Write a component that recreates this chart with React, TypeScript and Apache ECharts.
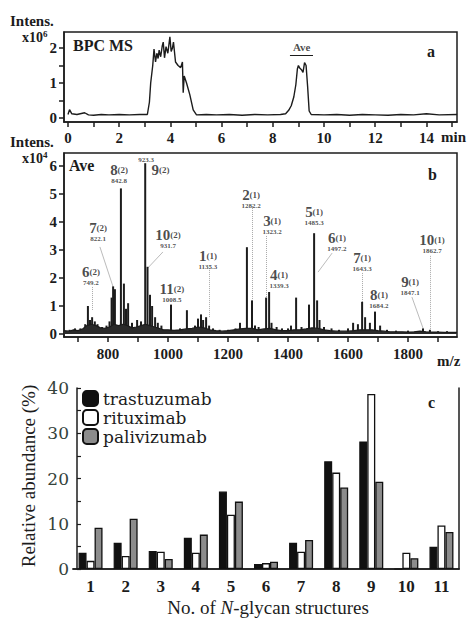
import React, { useEffect, useRef } from "react";
import * as echarts from "echarts";

// ---------- Panel a: BPC chromatogram (min, intensity x10^6) ----------
const bpcPoints: [number, number][] = [
  [0, 0.1], [0.06, 0.24], [0.15, 0.12], [0.35, 0.1], [0.65, 0.15], [0.8, 0.09], [1.0, 0.08],
  [1.3, 0.1], [1.6, 0.09], [2.0, 0.1], [2.4, 0.09], [2.8, 0.1], [3.1, 0.1],
  [3.18, 0.45], [3.23, 1.0], [3.31, 1.5], [3.36, 1.97], [3.42, 1.6], [3.47, 1.85], [3.52, 1.7],
  [3.56, 1.94], [3.62, 1.75], [3.68, 2.05], [3.72, 2.17], [3.77, 1.72], [3.83, 2.04], [3.9, 1.85],
  [3.98, 2.32], [4.03, 1.9], [4.08, 2.0], [4.12, 2.17], [4.2, 1.6], [4.3, 1.5], [4.4, 1.44],
  [4.47, 1.6], [4.5, 0.72], [4.54, 1.2], [4.63, 1.0], [4.76, 0.66], [4.89, 0.23], [5.02, 0.09],
  [5.4, 0.1], [5.8, 0.09], [6.3, 0.1], [6.8, 0.08], [7.3, 0.1], [7.8, 0.09], [8.3, 0.1],
  [8.5, 0.12], [8.62, 0.22], [8.72, 0.35], [8.82, 0.6], [8.9, 0.95], [8.96, 1.4], [9.0, 1.5],
  [9.06, 1.42], [9.12, 1.38], [9.18, 1.3], [9.24, 1.58], [9.3, 1.5], [9.36, 0.9], [9.42, 0.2],
  [9.5, 0.1], [10.0, 0.09], [10.5, 0.1], [11.0, 0.08], [11.5, 0.1], [12.0, 0.09], [12.5, 0.08],
  [13.0, 0.1], [13.5, 0.09], [14.0, 0.12], [14.5, 0.09], [15.2, 0.1],
];
const bpcTicks = [0, 1, 2, 3, 4, 5, 6, 7, 8, 9, 10, 11, 12, 13, 14, 15];
const bpcLabels = [0, 2, 4, 6, 8, 10, 12, 14];
const bpcYTicks = [0, 0.5, 1, 1.5, 2];
const bpcYLabels = [0, 1, 2];

// ---------- Panel b: averaged mass spectrum (m/z, intensity x10^4) ----------
const specPeaks: [number, number][] = [
  [672, 0.15], [690, 0.2], [708, 0.2], [724, 0.35], [733, 1.0], [740, 0.5], [747, 0.6], [756, 0.45],
  [765, 0.35], [780, 0.25], [795, 0.3], [805, 0.45], [812, 1.3], [817, 1.7], [823, 1.6], [843, 5.2],
  [853, 1.8], [860, 0.9], [867, 1.1], [880, 0.4], [897, 0.5], [910, 0.45], [924, 6.1], [931.7, 2.4],
  [940, 1.4], [947, 1.0], [957, 0.6], [966, 0.4], [978, 0.3], [1010, 1.05], [1040, 0.2], [1063, 0.85],
  [1090, 0.3], [1100, 0.55], [1110, 0.7], [1117, 0.5], [1127, 0.6], [1137, 0.3], [1150, 0.2],
  [1172, 0.15], [1200, 0.15], [1225, 0.2], [1240, 0.4], [1263, 3.1], [1280, 1.2], [1290, 0.3],
  [1302, 0.25], [1327, 1.3], [1337, 1.5], [1345, 0.4], [1362, 0.25], [1380, 0.2], [1400, 0.2],
  [1410, 0.3], [1427, 1.3], [1445, 0.25], [1470, 1.05], [1487, 3.6], [1497, 1.2], [1505, 0.5],
  [1520, 0.25], [1545, 0.2], [1570, 0.15], [1600, 0.2], [1617, 0.4], [1633, 0.35], [1647, 1.15],
  [1657, 0.6], [1673, 0.4], [1690, 0.8], [1707, 0.3], [1730, 0.15], [1760, 0.12], [1800, 0.12],
  [1850, 0.2], [1873, 0.15], [1900, 0.1], [1930, 0.1],
];
const specNoise: [number, number][] = [
  [653, 0.12], [670, 0.1], [685, 0.15], [700, 0.12], [715, 0.18], [730, 0.3], [745, 0.35], [760, 0.3],
  [775, 0.22], [790, 0.2], [805, 0.25], [820, 0.35], [835, 0.3], [850, 0.35], [865, 0.3], [880, 0.22],
  [895, 0.25], [910, 0.3], [925, 0.35], [940, 0.3], [955, 0.25], [970, 0.2], [985, 0.15], [1000, 0.15],
  [1020, 0.13], [1040, 0.15], [1060, 0.18], [1080, 0.2], [1100, 0.25], [1120, 0.22], [1140, 0.15],
  [1160, 0.12], [1180, 0.1], [1200, 0.12], [1220, 0.15], [1240, 0.18], [1260, 0.2], [1280, 0.2],
  [1300, 0.15], [1320, 0.18], [1340, 0.2], [1360, 0.15], [1380, 0.12], [1400, 0.12], [1420, 0.15],
  [1440, 0.15], [1460, 0.18], [1480, 0.22], [1500, 0.2], [1520, 0.15], [1540, 0.12], [1560, 0.1],
  [1580, 0.1], [1600, 0.1], [1620, 0.12], [1640, 0.15], [1660, 0.15], [1680, 0.15], [1700, 0.12],
  [1720, 0.1], [1740, 0.08], [1760, 0.08], [1780, 0.08], [1800, 0.07], [1820, 0.08], [1840, 0.1],
  [1860, 0.08], [1880, 0.07], [1900, 0.07], [1920, 0.06], [1940, 0.06], [1963, 0.06],
];
const specTicks = [700, 800, 900, 1000, 1100, 1200, 1300, 1400, 1500, 1600, 1700, 1800, 1900];
const specLabels = [800, 1000, 1200, 1400, 1600, 1800];
const specYTicks = [0, 1, 2, 3, 4, 5, 6];

// Peak annotations: glycan number, charge state, m/z text
const annNames = ["6", "7", "8", "10", "11", "1", "2", "3", "4", "5", "6", "7", "8", "9", "10"];
const annCharges = ["(2)", "(2)", "(2)", "(2)", "(2)", "(1)", "(1)", "(1)", "(1)", "(1)", "(1)", "(1)", "(1)", "(1)", "(1)"];
const annMasses = ["749.2", "822.1", "842.8", "931.7", "1008.5", "1135.3", "1282.2", "1323.2", "1339.3", "1485.3", "1497.2", "1643.3", "1684.2", "1847.1", "1862.7"];
const annAnchors: [number, number][] = [
  [743, 2.07], [767, 3.61], [837, 5.68], [1000, 3.36], [1013, 1.46], [1133, 2.64], [1277, 4.82],
  [1347, 3.89], [1370, 1.93], [1487, 4.18], [1563, 3.25], [1647, 2.54], [1703, 1.25], [1807, 1.71],
  [1880, 3.21],
];
const leaders: { from: [number, number]; to: [number, number]; dotted: boolean }[] = [
  { from: [747, 1.68], to: [747, 0.86], dotted: true },
  { from: [773, 3.11], to: [817, 1.68], dotted: false },
  { from: [983, 2.93], to: [933, 2.36], dotted: false },
  { from: [1137, 2.36], to: [1137, 0.57], dotted: true },
  { from: [1280, 4.57], to: [1280, 1.2], dotted: true },
  { from: [1327, 3.5], to: [1327, 1.3], dotted: true },
  { from: [1547, 2.89], to: [1500, 2.21], dotted: false },
  { from: [1647, 2.18], to: [1647, 1.15], dotted: true },
  { from: [1813, 1.32], to: [1850, 0.21], dotted: false },
  { from: [1873, 2.79], to: [1873, 0.14], dotted: true },
];

// ---------- Panel c: relative abundance (%) ----------
const glycanNos = ["1", "2", "3", "4", "5", "6", "7", "8", "9", "10", "11"];
const trastuzumab = [3.6, 5.8, 4.0, 6.9, 17.1, 1.1, 5.8, 23.8, 28.2, 0, 4.9];
const rituximab = [1.8, 2.9, 3.8, 3.6, 12.0, 1.3, 3.8, 21.3, 38.7, 3.6, 9.6];
const palivizumab = [9.1, 11.1, 2.2, 7.6, 14.9, 1.6, 6.4, 18.0, 19.3, 2.4, 8.2];
const abundTicks = [0, 5, 10, 15, 20, 25, 30, 35, 40];
const abundLabels = [0, 10, 20, 30, 40];

const SERIF = "Liberation Serif";
const WIDE_SERIF = "DejaVu Serif";
const INK = "#1c1c1c";
const plain = (v: number) => String(v);

export default function App() {
  const ref = useRef<HTMLDivElement>(null);
  useEffect(() => {
    if (!ref.current) return;
    const chart = echarts.init(ref.current, null, { renderer: "svg" });
    const axLine = { show: true, onZero: false, lineStyle: { color: INK, width: 1.5 } };
    const tickLbl = { fontFamily: SERIF, fontWeight: "bold" as const, fontSize: 15, color: INK, formatter: plain };

    const option: any = {
      animation: false,
      backgroundColor: "#fff",
      textStyle: { fontFamily: SERIF },
      grid: [
        { left: 64, top: 32, width: 393, height: 90, show: true, borderColor: INK, borderWidth: 1.5 },
        { left: 64, top: 153, width: 393, height: 184, show: true, borderColor: INK, borderWidth: 1.5 },
        { left: 73, top: 388, width: 386, height: 181 },
      ],
      xAxis: [
        {
          type: "value", gridIndex: 0, min: -0.156, max: 15.195,
          axisLine: axLine,
          axisTick: { show: true, length: 5, customValues: bpcTicks, lineStyle: { color: INK, width: 1.5 } },
          axisLabel: { ...tickLbl, margin: 8, customValues: bpcLabels },
          splitLine: { show: false },
        },
        {
          type: "value", gridIndex: 1, min: 653.3, max: 1963.3,
          axisLine: axLine,
          axisTick: { show: true, length: 5, customValues: specTicks, lineStyle: { color: INK, width: 1.5 } },
          axisLabel: { ...tickLbl, margin: 9, customValues: specLabels },
          splitLine: { show: false },
        },
        {
          type: "category", gridIndex: 2, data: glycanNos,
          axisLine: { show: true, lineStyle: { color: INK, width: 1.5 } },
          axisTick: { show: false },
          axisLabel: { fontFamily: SERIF, fontWeight: "bold", fontSize: 17, color: INK, margin: 9 },
        },
        {
          type: "category", gridIndex: 2, data: glycanNos, position: "top",
          axisLine: { show: true, lineStyle: { color: INK, width: 1.5 } },
          axisTick: { show: false }, axisLabel: { show: false },
        },
      ],
      yAxis: [
        {
          type: "value", gridIndex: 0, min: -0.114, max: 2.457,
          axisLine: axLine,
          axisTick: { show: true, length: 5, customValues: bpcYTicks, lineStyle: { color: INK, width: 1.5 } },
          axisLabel: { ...tickLbl, margin: 7, customValues: bpcYLabels },
          splitLine: { show: false },
        },
        {
          type: "value", gridIndex: 1, min: -0.107, max: 6.464,
          axisLine: axLine,
          axisTick: { show: true, length: 5, customValues: specYTicks, lineStyle: { color: INK, width: 1.5 } },
          axisLabel: { ...tickLbl, margin: 7, customValues: specYTicks },
          splitLine: { show: false },
        },
        {
          type: "value", gridIndex: 2, min: 0, max: 40, offset: -4,
          axisLine: axLine,
          axisTick: { show: true, inside: true, length: 4, customValues: abundTicks, lineStyle: { color: INK, width: 1.2 } },
          axisLabel: { fontFamily: WIDE_SERIF, fontSize: 17, color: "#34423a", margin: 8, customValues: abundLabels, formatter: plain },
          splitLine: { show: false },
        },
        {
          type: "value", gridIndex: 2, min: 0, max: 40, position: "right",
          axisLine: axLine, axisTick: { show: false }, axisLabel: { show: false }, splitLine: { show: false },
        },
      ],
      legend: {
        data: ["trastuzumab", "rituximab", "palivizumab"],
        orient: "vertical", left: 82, top: 390, padding: 0,
        itemWidth: 15, itemHeight: 15, itemGap: 2,
        selectedMode: false,
        textStyle: { fontFamily: WIDE_SERIF, fontSize: 17, color: INK, lineHeight: 17 },
      },
      series: [
        {
          type: "line", xAxisIndex: 0, yAxisIndex: 0, data: bpcPoints, symbol: "none",
          lineStyle: { color: INK, width: 1.4 },
        },
        {
          type: "lines", coordinateSystem: "cartesian2d", xAxisIndex: 0, yAxisIndex: 0,
          data: [{ coords: [[8.67, 1.8], [9.57, 1.8]] }],
          lineStyle: { color: INK, width: 1.2, opacity: 1 }, symbol: "none",
        },
        {
          type: "scatter", xAxisIndex: 0, yAxisIndex: 0, symbolSize: 0,
          data: [{ value: [9.13, 2.02] }],
          label: { show: true, position: "inside", formatter: "Ave", fontFamily: SERIF, fontWeight: "bold", fontSize: 11, color: INK },
        },
        {
          type: "line", xAxisIndex: 1, yAxisIndex: 1, data: specNoise, symbol: "none",
          lineStyle: { color: INK, width: 1.2 }, areaStyle: { color: "#2a2a2a", opacity: 1 },
        },
        {
          type: "bar", xAxisIndex: 1, yAxisIndex: 1, data: specPeaks, barWidth: 2,
          itemStyle: { color: INK },
        },
        {
          type: "lines", coordinateSystem: "cartesian2d", xAxisIndex: 1, yAxisIndex: 1,
          data: leaders.map((l) => ({
            coords: [l.from, l.to],
            lineStyle: { type: l.dotted ? "dotted" : "solid", width: l.dotted ? 1 : 0.8, color: "#555" },
          })),
          symbol: "none",
        },
        {
          type: "scatter", xAxisIndex: 1, yAxisIndex: 1, symbolSize: 0,
          data: annAnchors.map((p, i) => ({ value: p, n: annNames[i], c: annCharges[i], m: annMasses[i] })),
          label: {
            show: true, position: "inside",
            formatter: (p: any) => `{n|${p.data.n}}{c|${p.data.c}}\n{m|${p.data.m}}`,
            rich: {
              n: { fontFamily: SERIF, fontWeight: "bold", fontSize: 15, color: INK, lineHeight: 13 },
              c: { fontFamily: SERIF, fontWeight: "bold", fontSize: 9, color: INK, lineHeight: 13 },
              m: { fontFamily: SERIF, fontWeight: "bold", fontSize: 7, color: INK, lineHeight: 9, align: "center" },
            },
          },
        },
        {
          type: "scatter", xAxisIndex: 1, yAxisIndex: 1, symbolSize: 0,
          data: [{ value: [927, 6.21] }],
          label: { show: true, position: "inside", formatter: "923.3", fontFamily: SERIF, fontWeight: "bold", fontSize: 7, color: INK },
        },
        {
          type: "scatter", xAxisIndex: 1, yAxisIndex: 1, symbolSize: 0,
          data: [{ value: [975, 5.86] }],
          label: {
            show: true, position: "inside", formatter: "{n|9}{c|(2)}",
            rich: {
              n: { fontFamily: SERIF, fontWeight: "bold", fontSize: 15, color: INK },
              c: { fontFamily: SERIF, fontWeight: "bold", fontSize: 9, color: INK },
            },
          },
        },
        {
          name: "trastuzumab", type: "bar", xAxisIndex: 2, yAxisIndex: 2, data: trastuzumab,
          barWidth: 8, barGap: "0%",
          itemStyle: { color: "#111", borderColor: "#111", borderWidth: 1.2 },
        },
        {
          name: "rituximab", type: "bar", xAxisIndex: 2, yAxisIndex: 2, data: rituximab,
          barWidth: 8, barGap: "0%",
          itemStyle: { color: "#fff", borderColor: "#111", borderWidth: 1.3 },
        },
        {
          name: "palivizumab", type: "bar", xAxisIndex: 2, yAxisIndex: 2, data: palivizumab,
          barWidth: 8, barGap: "0%",
          itemStyle: { color: "#8c8c8c", borderColor: "#111", borderWidth: 1.3 },
        },
      ],
      graphic: [
        { type: "text", left: 10, top: 13, style: { text: "Intens.", font: `bold 15px ${SERIF}`, fill: INK } },
        {
          type: "text", left: 22, top: 29,
          style: { text: "{b|x10}{s|6}", fill: INK, rich: { b: { font: `bold 14px ${SERIF}`, fill: INK }, s: { font: `bold 9px ${SERIF}`, fill: INK, verticalAlign: "top", padding: [0, 0, 7, 0] } } },
        },
        { type: "text", left: 73, top: 37, style: { text: "BPC MS", font: `bold 16px ${SERIF}`, fill: INK } },
        { type: "text", left: 427, top: 43, style: { text: "a", font: `bold 16px ${SERIF}`, fill: INK } },
        { type: "text", left: 441, top: 129, style: { text: "min", font: `bold 15px ${SERIF}`, fill: INK } },
        { type: "text", left: 10, top: 134, style: { text: "Intens.", font: `bold 15px ${SERIF}`, fill: INK } },
        {
          type: "text", left: 22, top: 150,
          style: { text: "{b|x10}{s|4}", fill: INK, rich: { b: { font: `bold 14px ${SERIF}`, fill: INK }, s: { font: `bold 9px ${SERIF}`, fill: INK, verticalAlign: "top", padding: [0, 0, 7, 0] } } },
        },
        { type: "text", left: 69, top: 157, style: { text: "Ave", font: `bold 16px ${SERIF}`, fill: INK } },
        { type: "text", left: 428, top: 166, style: { text: "b", font: `bold 16px ${SERIF}`, fill: INK } },
        { type: "text", left: 437, top: 353, style: { text: "m/z", font: `bold 15px ${SERIF}`, fill: INK } },
        { type: "text", left: 428, top: 394, style: { text: "c", font: `bold 16px ${SERIF}`, fill: INK } },
        {
          type: "text", x: 28, y: 476, rotation: Math.PI / 2,
          style: { text: "Relative abundance (%)", font: `19px ${SERIF}`, fill: INK, align: "center", verticalAlign: "middle" },
        },
        {
          type: "text", x: 268, y: 607,
          style: {
            text: "{r|No. of }{i|N}{r|-glycan structures}", align: "center", verticalAlign: "middle", fill: INK,
            rich: { r: { font: `19px ${SERIF}`, fill: INK }, i: { font: `italic 19px ${SERIF}`, fill: INK } },
          },
        },
      ],
    };
    chart.setOption(option);
    return () => chart.dispose();
  }, []);
  return (
    <div
      ref={ref}
      style={{ position: "absolute", left: 0, top: 0, width: 467, height: 619, background: "#fff" }}
    />
  );
}
